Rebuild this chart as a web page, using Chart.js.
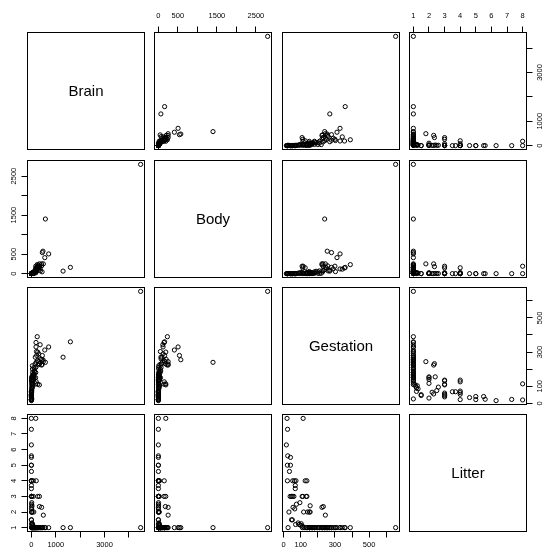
<!DOCTYPE html>
<html>
<head>
<meta charset="utf-8">
<title>Brain, Body, Gestation, Litter - scatterplot matrix</title>
<script src="https://cdn.jsdelivr.net/npm/chart.js@4.4.1/dist/chart.umd.min.js"></script>
<style>
  html, body { margin: 0; padding: 0; background: #fff; }
  #wrap { position: relative; width: 542px; height: 548px; overflow: hidden; }
  #wrap canvas { position: absolute; }
</style>
</head>
<body>
<div id="wrap"></div>
<script>
// =========================
// Data (one entry per mammal species)
// =========================

const varNames = ["Brain", "Body", "Gestation", "Litter"];

const brain = [4480, 1600, 1300, 575, 710, 550, 450, 475, 240, 360,
  190, 210, 190, 440, 420, 330, 300, 280, 250, 260,
  220, 175, 115, 120, 150, 200, 180, 160, 140, 130,
  100, 90, 70, 60, 50, 45, 35, 104, 93, 79,
  23.2, 22, 17.5, 180, 370, 25, 15, 12, 40, 300,
  40, 30, 50, 20, 60, 10, 1.14, 1.37, 490, 420,
  330, 100, 20, 9.6, 30, 10, 8, 12, 15, 25,
  330, 260, 80, 20, 3.15, 3, 5, 1.5, 2, 200,
  80, 2, 1, 1.5, 4, 3.5, 1, 1.2, 2, 1.8,
  0.8, 0.5, 0.4, 180, 6, 2.5];

const body = [2800, 160, 65, 1400, 505, 410, 540, 575, 231, 115,
  146, 52, 120, 46, 200, 250, 160, 220, 150, 190,
  160, 55, 28, 50, 80, 100, 70, 90, 45, 60,
  30, 20, 15, 12, 10, 8, 6, 5.5, 6.7, 3.5,
  0.81, 2.1, 3.5, 20, 70, 4, 1.5, 1, 9, 120,
  20, 15, 25, 10, 30, 2, 0.049, 0.064, 250, 250,
  180, 25, 3, 0.41, 5, 1, 0.8, 2, 3, 4,
  190, 146, 25, 4, 0.15, 0.2, 0.5, 0.1, 0.12, 150,
  30, 0.1, 0.05, 0.08, 0.3, 0.93, 0.05, 0.06, 0.1, 0.1,
  0.04, 0.03, 0.02, 190, 1.2, 0.3];

const gestation = [655, 360, 270, 240, 330, 312, 280, 255, 390, 343,
  356, 303, 330, 228, 257, 230, 245, 225, 250, 300,
  280, 150, 150, 200, 230, 240, 210, 270, 180, 190,
  160, 170, 140, 150, 180, 200, 160, 210, 165, 170,
  150, 135, 26, 180, 260, 120, 110, 130, 220, 290,
  103, 90, 110, 85, 100, 70, 51, 46, 244, 224,
  232, 155, 150, 140, 117, 65, 55, 75, 95, 155,
  108, 112, 136, 132, 46, 52, 60, 68, 68, 126,
  136, 72, 63, 53, 22, 34, 22, 40, 40, 24,
  16, 23, 20, 114, 31, 38];

const litter = [1, 1, 1, 1, 1, 1, 1, 1, 1, 1,
  1, 1, 1, 1, 1, 1, 1, 1, 1, 1,
  1, 1, 1, 1, 1, 1, 1, 1, 1, 1,
  1, 1, 1, 1, 1, 1, 1, 1, 1, 1,
  1, 1, 1, 1, 1, 1, 1, 1, 1, 1,
  1.25, 1.2, 1.1, 1.3, 1.15, 1.2, 1.5, 1.5, 1.8, 2.3,
  2.35, 2, 2, 2, 2, 2.2, 2.3, 2.5, 2.6, 2.4,
  3, 3, 3, 3, 3, 3, 3, 3.5, 3.7, 4,
  4, 4, 4, 4, 4, 4.6, 5, 5, 5.5, 5.6,
  6.3, 7.3, 8, 8, 2, 3];

// tick positions and the ones that carry a printed label
const brainTicks = [0, 1000, 2000, 3000, 4000];
const brainLabels = [0, 1000, 3000];
const bodyTicks = [0, 500, 1000, 1500, 2000, 2500];
const bodyLabels = [0, 500, 1500, 2500];
const gestTicks = [0, 100, 200, 300, 400, 500, 600];
const gestLabels = [0, 100, 300, 500];
const litterTicks = [1, 2, 3, 4, 5, 6, 7, 8];
const litterLabels = [1, 2, 3, 4, 5, 6, 7, 8];

// =========================
// Layout
// =========================

const cols = [brain, body, gestation, litter];
const tickSets = [brainTicks, bodyTicks, gestTicks, litterTicks];
const labelSets = [brainLabels, bodyLabels, gestLabels, litterLabels];

const PANEL = 118;
const M = 30;
const panelLeft = [27, 154, 282, 409];
const panelTop = [32, 160, 287, 414];
const TICK = 5.5;
const FONT = '"Liberation Sans", Arial, Helvetica, sans-serif';
const FSIZE = 7.5;
const tickFont = { family: FONT, size: FSIZE, lineHeight: 1.2 };

// axis range padded by 4% on each side, like R does
function extRange(arr) {
  const lo = Math.min(...arr);
  const hi = Math.max(...arr);
  const d = (hi - lo) * 0.04;
  return [lo - d, hi + d];
}
const ranges = cols.map(extRange);

const measureCtx = document.createElement("canvas").getContext("2d");
measureCtx.font = FSIZE + "px " + FONT;
function widest(labels) {
  return Math.max(...labels.map(l => measureCtx.measureText(String(l)).width));
}

function makeAxis(v, pos, show) {
  const horiz = pos === "top" || pos === "bottom";
  const half = FSIZE * 1.2 / 2;
  let pad = 0;
  if (show) {
    const w = widest(labelSets[v]) / 2;
    if (pos === "top") pad = 15.8 - TICK - half;
    if (pos === "bottom") pad = 12.5 - TICK - half;
    if (pos === "left") pad = 13.5 - TICK - w;
    if (pos === "right") pad = 12.5 - TICK - w;
  }
  return {
    type: "linear",
    position: pos,
    bounds: "data",
    min: ranges[v][0],
    max: ranges[v][1],
    afterBuildTicks: s => { s.ticks = tickSets[v].map(t => ({ value: t })); },
    afterFit: s => { if (horiz) s.height = M; else s.width = M; },
    ticks: {
      display: show,
      autoSkip: false,
      minRotation: horiz ? 0 : 90,
      maxRotation: horiz ? 0 : 90,
      crossAlign: horiz ? "near" : "center",
      padding: pad,
      color: "#000",
      font: tickFont,
      callback: val => labelSets[v].includes(val) ? String(val) : ""
    },
    grid: {
      display: show,
      drawOnChartArea: false,
      drawTicks: true,
      tickLength: TICK,
      tickColor: "#000",
      tickWidth: 1
    },
    border: { display: false }
  };
}

// box around every panel, variable name on the diagonal
const panelFrame = {
  id: "panelFrame",
  afterDraw(chart, args, opts) {
    const a = chart.chartArea;
    const ctx = chart.ctx;
    ctx.save();
    ctx.strokeStyle = "#000";
    ctx.lineWidth = 1;
    ctx.strokeRect(a.left + 0.5, a.top + 0.5, a.right - a.left - 1, a.bottom - a.top - 1);
    if (opts.label) {
      ctx.fillStyle = "#000";
      ctx.font = "15px " + FONT;
      ctx.textAlign = "center";
      ctx.textBaseline = "middle";
      ctx.fillText(opts.label, (a.left + a.right) / 2, (a.top + a.bottom) / 2 + 1);
    }
    ctx.restore();
  }
};

// =========================
// Panels
// =========================

const wrap = document.getElementById("wrap");

for (let i = 0; i < 4; i++) {
  for (let j = 0; j < 4; j++) {

    const canvas = document.createElement("canvas");
    canvas.width = PANEL + 2 * M;
    canvas.height = PANEL + 2 * M;
    canvas.style.left = (panelLeft[j] - M) + "px";
    canvas.style.top = (panelTop[i] - M) + "px";
    wrap.appendChild(canvas);

    const datasets = i === j ? [] : [{
      data: cols[j].map((xv, k) => ({ x: xv, y: cols[i][k] })),
      pointStyle: "circle",
      pointRadius: 2.1,
      pointBorderWidth: 1,
      pointBorderColor: "#000",
      pointBackgroundColor: "rgba(0,0,0,0)"
    }];

    new Chart(canvas, {
      type: "scatter",
      data: { datasets },
      options: {
        responsive: false,
        animation: false,
        devicePixelRatio: 1,
        layout: { padding: 0 },
        plugins: {
          legend: { display: false },
          tooltip: { enabled: false },
          panelFrame: { label: i === j ? varNames[i] : "" }
        },
        scales: {
          x: makeAxis(j, "bottom", i === 3 && j % 2 === 0),
          x2: makeAxis(j, "top", i === 0 && j % 2 === 1),
          y: makeAxis(i, "left", j === 0 && i % 2 === 1),
          y2: makeAxis(i, "right", j === 3 && i % 2 === 0)
        }
      },
      plugins: [panelFrame]
    });
  }
}
</script>
</body>
</html>
